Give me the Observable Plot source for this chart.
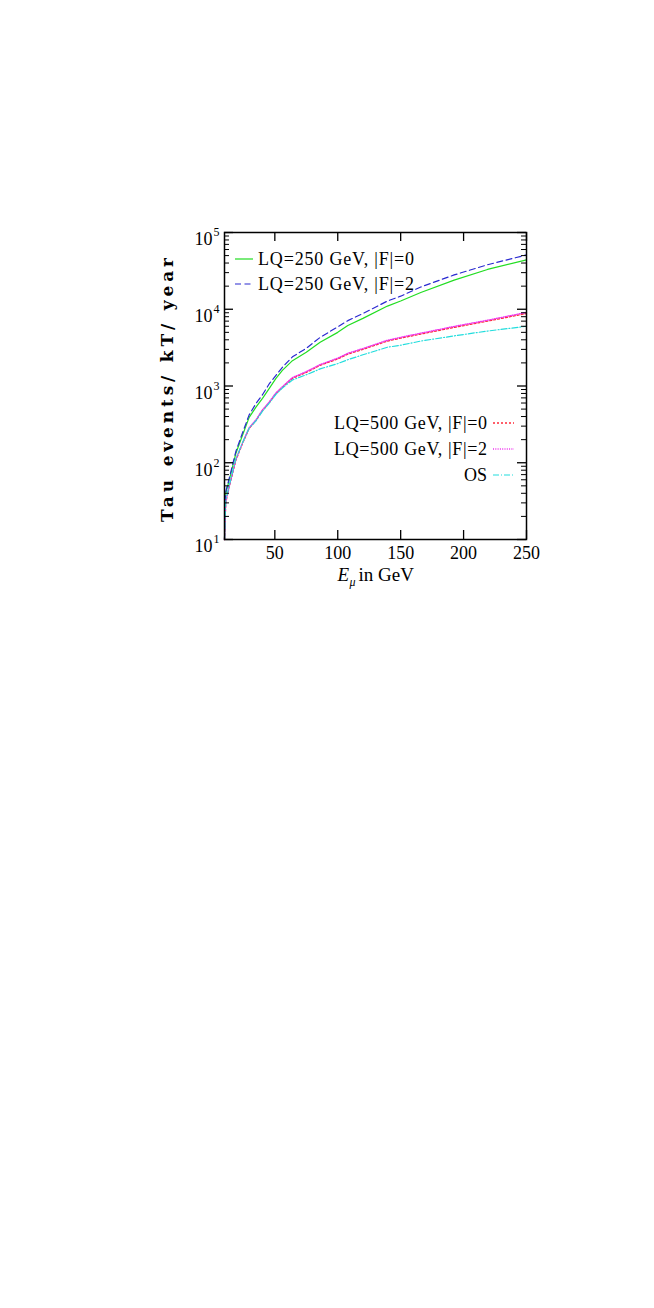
<!DOCTYPE html>
<html>
<head>
<meta charset="utf-8">
<script src="https://cdn.jsdelivr.net/npm/d3@7"></script>
<script src="https://cdn.jsdelivr.net/npm/@observablehq/plot@0.6"></script>
<style>
  html, body { margin: 0; padding: 0; background: #fff; }
  #chart svg { display: block; font-family: "Liberation Serif", "DejaVu Serif", serif; }
</style>
</head>
<body>
<div id="chart"></div>
<script>
// ---- data ----
const energies = [10, 11, 13.7, 19, 24.3, 29.6, 35, 40.2, 45.6, 50.9, 56, 64, 75, 86, 100, 108, 120, 139.5, 150, 166, 192.5, 219, 250];
const lq250F0 = [10, 40, 59, 132, 228, 390, 530, 690, 930, 1260, 1600, 2140, 2750, 3720, 5000, 6150, 7600, 11000, 12800, 16500, 24000, 33000, 44000];
const lq250F2 = [10, 42, 62, 140, 245, 420, 590, 770, 1070, 1380, 1750, 2400, 3100, 4300, 5900, 7100, 8800, 12800, 14800, 19500, 28000, 38000, 51000];
const lq500F0 = [10, 30, 48, 107, 178, 280, 355, 480, 610, 800, 960, 1260, 1500, 1860, 2250, 2600, 3000, 3850, 4200, 4750, 5800, 7000, 8800];
const lq500F2 = [10, 31, 49, 110, 182, 286, 362, 490, 622, 815, 980, 1290, 1540, 1900, 2310, 2670, 3080, 3950, 4320, 4880, 5980, 7200, 9100];
const osSM    = [10, 32, 50, 112, 182, 282, 352, 470, 600, 780, 940, 1200, 1400, 1670, 1960, 2200, 2550, 3200, 3400, 3850, 4500, 5200, 6000];

const seriesNames = ["LQ=250 GeV, |F|=0", "LQ=250 GeV, |F|=2", "LQ=500 GeV, |F|=0", "LQ=500 GeV, |F|=2", "OS"];
const seriesValues = [lq250F0, lq250F2, lq500F0, lq500F2, osSM];
const seriesColors = ["#22dd22", "#2a2ad0", "#ff2a3a", "#ee33ee", "#22dddd"];
const seriesDash = [null, "6,3.5", "2,2", "1,1.3", "6,2,1,2"];
const seriesWidth = [1.2, 1.2, 1.3, 1.3, 1.2];

const xTicks = [50, 100, 150, 200, 250];
const yMajor = [10, 100, 1000, 10000, 100000];
const yMinor = [];
for (let k = 1; k <= 4; k++) for (let m = 2; m <= 9; m++) yMinor.push(m * Math.pow(10, k));

const xLabelMain = "E";
const xLabelSub = "μ";
const xLabelRest = "in GeV";
const yLabel = "Tau events/ kT/ year";

// ---- layout ----
const W = 654, H = 620;
const mL = 224, mR = 128, mT = 232, mB = 81;
const fw = W - mL - mR, fh = H - mT - mB;
const font = "Liberation Serif, DejaVu Serif, serif";

const tables = seriesValues.map((vals, i) => energies.map((e, j) => ({x: e, y: vals[j], s: seriesNames[i]})));

const lineMarks = tables.map((t, i) => Plot.line(t, {
  x: "x", y: "y", stroke: seriesColors[i], strokeWidth: seriesWidth[i],
  strokeDasharray: seriesDash[i] || undefined
}));

const plot = Plot.plot({
  width: W, height: H,
  marginLeft: mL, marginRight: mR, marginTop: mT, marginBottom: mB,
  style: {fontFamily: font, fontSize: "18px", background: "white", color: "black"},
  x: {domain: [10, 250], axis: null},
  y: {type: "log", domain: [10, 100000], axis: null},
  marks: [
    ...lineMarks,
    // ticks (inward, all four sides)
    Plot.tickX(xTicks, {x: d => d, insetTop: fh - 9, stroke: "black", strokeWidth: 1.3}),
    Plot.tickX(xTicks, {x: d => d, insetBottom: fh - 9, stroke: "black", strokeWidth: 1.3}),
    Plot.tickY(yMajor, {y: d => d, insetRight: fw - 9, stroke: "black", strokeWidth: 1.3}),
    Plot.tickY(yMajor, {y: d => d, insetLeft: fw - 9, stroke: "black", strokeWidth: 1.3}),
    Plot.tickY(yMinor, {y: d => d, insetRight: fw - 5, stroke: "black", strokeWidth: 1}),
    Plot.tickY(yMinor, {y: d => d, insetLeft: fw - 5, stroke: "black", strokeWidth: 1}),
    Plot.frame({stroke: "black", strokeWidth: 1.5}),
    // tick labels
    Plot.text(xTicks, {x: d => d, text: d => String(d), frameAnchor: "bottom", dy: 19, fontSize: 18, fill: "black"}),
    Plot.text(yMajor, {y: d => d, text: () => "10", frameAnchor: "left", textAnchor: "end", dx: -12, dy: 7, fontSize: 18, fill: "black"}),
    Plot.text(yMajor, {y: d => d, text: d => String(Math.round(Math.log10(d))), frameAnchor: "left", textAnchor: "start", dx: -11, dy: 0, fontSize: 12, fill: "black"}),
    // axis labels
    Plot.text([yLabel], {frameAnchor: "left", rotate: -90, textAnchor: "start", dx: -57, dy: 136, fontSize: 17, fontWeight: "bold", fontFamily: "DejaVu Serif, serif", fill: "black"}),
    Plot.text([xLabelMain], {frameAnchor: "bottom", textAnchor: "start", dx: -38, dy: 41, fontSize: 19, fontStyle: "italic", fill: "black"}),
    Plot.text([xLabelSub], {frameAnchor: "bottom", textAnchor: "start", dx: -26, dy: 46, fontSize: 12, fontStyle: "italic", fill: "black"}),
    Plot.text([xLabelRest], {frameAnchor: "bottom", textAnchor: "start", dx: -17, dy: 41, fontSize: 19, fill: "black"})
  ]
});

document.getElementById("chart").appendChild(plot);

// stretch the bold y label like the reference
const svg = d3.select(plot);
svg.selectAll("text").filter(function() { return this.textContent === yLabel; })
  .attr("textLength", 264).attr("lengthAdjust", "spacing");

// ---- legend (inside the frame) ----
const leg = svg.append("g").attr("font-family", font).attr("font-size", 18).attr("text-anchor", "start");
const upper = [0, 1], lower = [2, 3, 4];
upper.forEach((i, k) => {
  const y = 259 + k * 25;
  leg.append("line").attr("x1", 235).attr("x2", 253).attr("y1", y).attr("y2", y)
    .attr("stroke", seriesColors[i]).attr("stroke-width", seriesWidth[i])
    .attr("stroke-dasharray", seriesDash[i]);
  leg.append("text").attr("x", 258).attr("y", y).attr("dy", "0.35em")
    .attr("textLength", 156).attr("lengthAdjust", "spacing").text(seriesNames[i]);
});
const lowerLen = [153, 153, 23];
lower.forEach((i, k) => {
  const y = 423 + k * 26;
  leg.append("line").attr("x1", 493).attr("x2", 514).attr("y1", y).attr("y2", y)
    .attr("stroke", seriesColors[i]).attr("stroke-width", seriesWidth[i])
    .attr("stroke-dasharray", seriesDash[i]);
  leg.append("text").attr("x", 487 - lowerLen[k]).attr("y", y).attr("dy", "0.35em")
    .attr("textLength", lowerLen[k]).attr("lengthAdjust", "spacing").text(seriesNames[i]);
});
</script>
</body>
</html>
